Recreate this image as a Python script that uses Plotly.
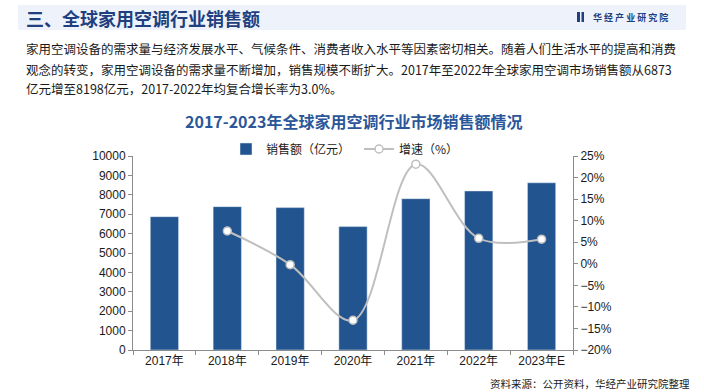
import plotly.graph_objects as go

years = ["2017年", "2018年", "2019年", "2020年", "2021年", "2022年", "2023年E"]
sales = [6873, 7390, 7340, 6360, 7800, 8198, 8620]
growth_years = ["2018年", "2019年", "2020年", "2021年", "2022年", "2023年E"]
growth = [7.6, -0.2, -13.1, 23.1, 5.9, 5.7]

W, H = 704, 392
L, R, T, B = 133, 573, 156, 350

def px(x):
    return (x - L) / (R - L)

def py(y):
    return (B - y) / (B - T)

CJK = "Noto Sans CJK SC, Noto Sans CJK SC"
NUM = "Liberation Sans, Arial, Noto Sans CJK SC"
BAR = "#22548F"
LINE = "#BFBFBF"
AX = "#8C8C8C"

fig = go.Figure()
fig.add_trace(go.Bar(
    x=years, y=sales, name="销售额（亿元）", marker_color=BAR, yaxis="y",
))
fig.add_trace(go.Scatter(
    x=growth_years, y=growth, name="增速（%）", yaxis="y2",
    mode="lines+markers", line=dict(color=LINE, width=2, shape="spline", smoothing=1.0),
    marker=dict(symbol="circle", size=8, color="white", line=dict(color=LINE, width=1.5)),
))

shapes = [
    dict(type="rect", xref="paper", yref="paper", x0=px(18), x1=px(686), y0=py(30), y1=py(5),
         fillcolor="#EEF3FB", line=dict(width=0), layer="below"),
    dict(type="rect", xref="paper", yref="paper", x0=px(577), x1=px(580), y0=py(22), y1=py(12),
         fillcolor="#1F3F7E", line=dict(width=0)),
    dict(type="rect", xref="paper", yref="paper", x0=px(581.5), x1=px(584), y0=py(22), y1=py(12),
         fillcolor="#1F3F7E", line=dict(width=0)),
]

annotations = [
    dict(text="<b>三、全球家用空调行业销售额</b>", x=px(24), y=py(18), xref="paper", yref="paper",
         xanchor="left", yanchor="middle", showarrow=False,
         font=dict(family=CJK, size=18, color="#1F3F7E")),
    dict(text="<b>华 经 产 业 研 究 院</b>", x=px(591), y=py(17), xref="paper", yref="paper",
         xanchor="left", yanchor="middle", showarrow=False,
         font=dict(family=CJK, size=9, color="#1F3F7E")),
    dict(text="家用空调设备的需求量与经济发展水平、气候条件、消费者收入水平等因素密切相关。随着人们生活水平的提高和消费",
         x=px(24), y=py(48), xref="paper", yref="paper", xanchor="left", yanchor="middle",
         showarrow=False, font=dict(family=CJK, size=12.5, color="#1A1A1A")),
    dict(text="观念的转变，家用空调设备的需求量不断增加，销售规模不断扩大。2017年至2022年全球家用空调市场销售额从6873",
         x=px(24), y=py(69), xref="paper", yref="paper", xanchor="left", yanchor="middle",
         showarrow=False, font=dict(family=CJK, size=12.5, color="#1A1A1A")),
    dict(text="亿元增至8198亿元，2017-2022年均复合增长率为3.0%。",
         x=px(24), y=py(89), xref="paper", yref="paper", xanchor="left", yanchor="middle",
         showarrow=False, font=dict(family=CJK, size=12.5, color="#1A1A1A")),
    dict(text="<b>2017-2023年全球家用空调行业市场销售额情况</b>", x=px(353), y=py(121),
         xref="paper", yref="paper", xanchor="center", yanchor="middle", showarrow=False,
         font=dict(family=CJK, size=16, color="#2B579A")),
    dict(text="资料来源：公开资料，华经产业研究院整理", x=px(692), y=py(383),
         xref="paper", yref="paper", xanchor="right", yanchor="middle", showarrow=False,
         font=dict(family=CJK, size=10.5, color="#1A1A1A")),
]

fig.update_layout(
    width=W, height=H,
    margin=dict(l=L, r=W - R, t=T, b=H - B, pad=0),
    paper_bgcolor="white", plot_bgcolor="white",
    bargap=0.55,
    showlegend=True,
    legend=dict(orientation="h", x=px(226), y=py(149), xanchor="left", yanchor="middle",
                font=dict(family=CJK, size=12, color="#1A1A1A"), bgcolor="rgba(0,0,0,0)",
                itemwidth=30, tracegroupgap=0, entrywidthmode="pixels", entrywidth=88),
    xaxis=dict(
        type="category", showline=True, linecolor=AX, linewidth=1,
        ticks="outside", tickson="boundaries", ticklen=4, tickcolor=AX,
        tickfont=dict(family=NUM, size=12, color="#1A1A1A"), showgrid=False,
    ),
    yaxis=dict(
        range=[0, 10000], dtick=1000, tickformat="d", showline=True, linecolor=AX, linewidth=1,
        ticks="outside", ticklen=4, tickcolor=AX, showgrid=False, zeroline=False,
        tickfont=dict(family=NUM, size=12, color="#1A1A1A"),
    ),
    yaxis2=dict(
        range=[-20, 25], dtick=5, overlaying="y", side="right", ticksuffix="%",
        showline=True, linecolor=AX, linewidth=1, ticks="outside", ticklen=4, tickcolor=AX,
        showgrid=False, zeroline=False,
        tickfont=dict(family=NUM, size=12, color="#1A1A1A"),
    ),
    shapes=shapes,
    annotations=annotations,
)

fig.write_html("out.html", config={"displayModeBar": False},
               post_script="document.body.style.margin='0';document.body.style.padding='0';")
